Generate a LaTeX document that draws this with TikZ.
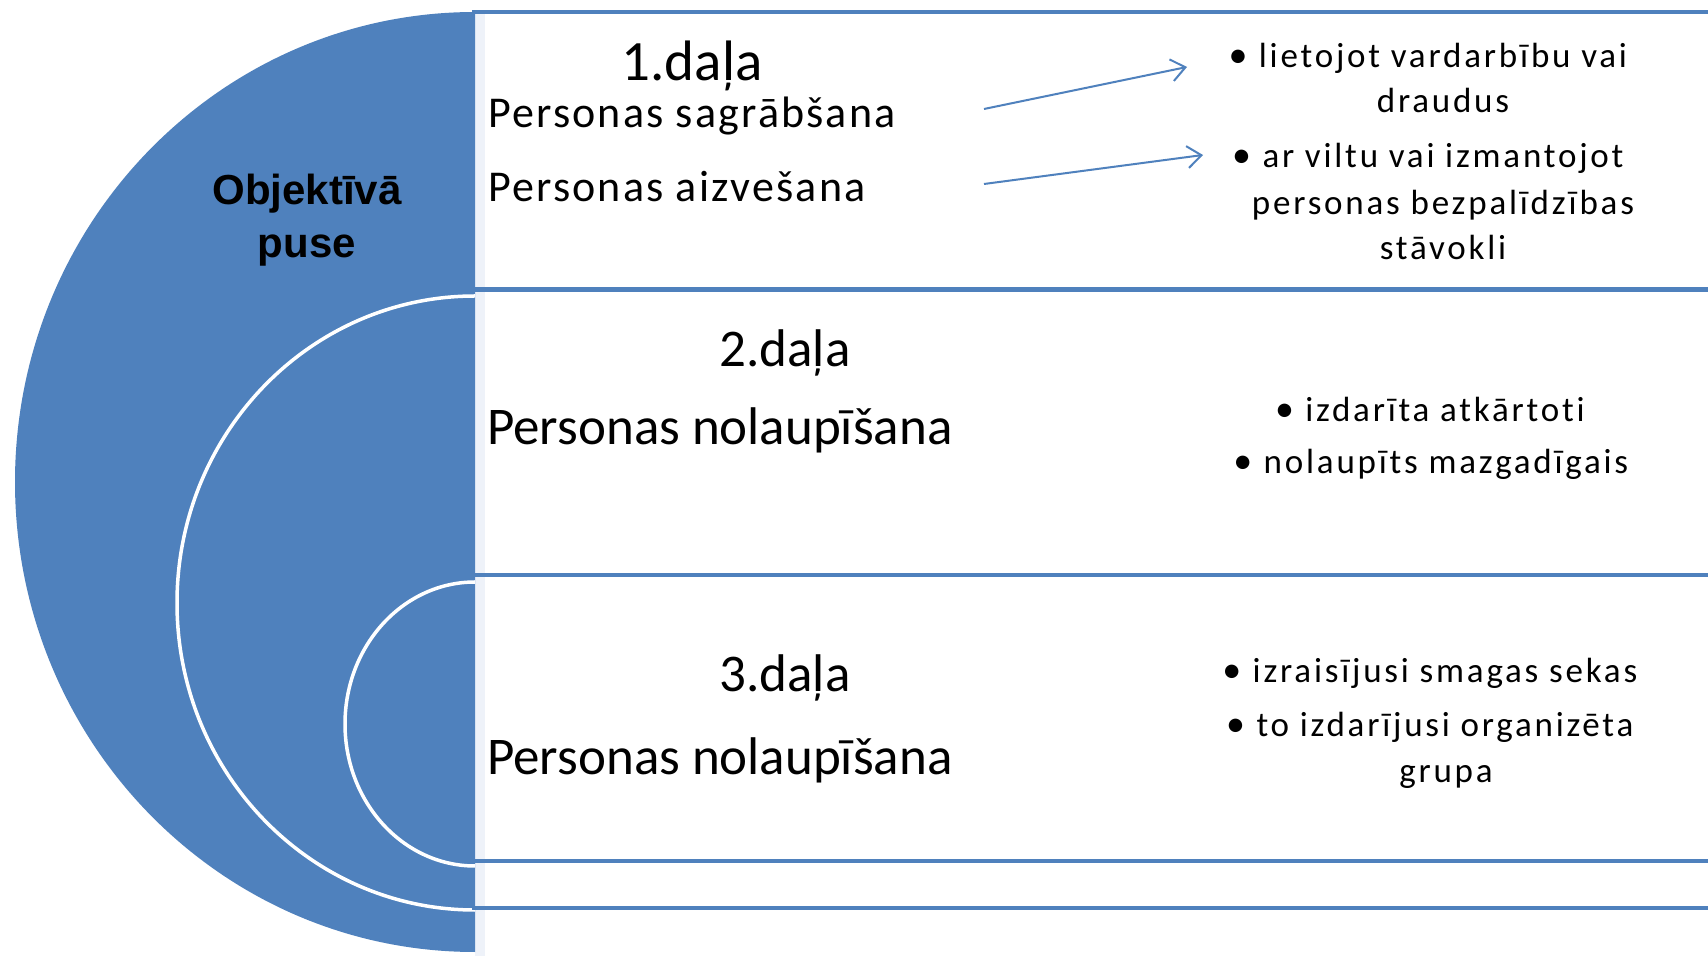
\documentclass[tikz,border=0pt]{standalone}
\usepackage{fontspec}
\usetikzlibrary{arrows.meta,calc}
\newfontfamily\calfont{Carlito}[Ligatures=NoCommon]
\newfontfamily\calhead{Carlito}[Ligatures=NoCommon,LetterSpace=5]
\newfontfamily\calbul{Carlito}[Ligatures=NoCommon,LetterSpace=8]
\newfontfamily\arialfont{Liberation Sans}
\definecolor{ppblue}{RGB}{79,129,189}
\definecolor{stripblue}{RGB}{238,242,249}
\begin{document}
\begin{tikzpicture}[x=1pt,y=1pt,
  bandline/.style={draw=ppblue, line width=4.5pt},
  ringline/.style={draw=white, line width=3.5pt},
  parthead/.style={inner sep=0pt, anchor=base, font=\calfont\fontsize{57}{62}\selectfont},
  partmid/.style={inner sep=0pt, anchor=base, font=\calfont\fontsize{53}{60}\selectfont},
  partline/.style={inner sep=0pt, anchor=base west, font=\calhead\fontsize{44}{50}\selectfont},
  partbig/.style={inner sep=0pt, anchor=base west, font=\calfont\fontsize{53}{60}\selectfont},
  bultext/.style={inner sep=0pt, anchor=base, font=\calbul\fontsize{35}{40}\selectfont},
  bulmark/.style={inner sep=0pt, anchor=base east, font=\calfont\fontsize{38}{40}\selectfont},
  sidetext/.style={inner sep=0pt, anchor=base, font=\arialfont\bfseries\fontsize{42}{48}\selectfont},
  arrowline/.style={draw=ppblue, line width=2pt, -{Straight Barb[length=14pt,width=22pt,line width=2pt]}},
]
\fill[white] (0,0) rectangle (1708,956);
\useasboundingbox (0,0) rectangle (1708,956);
% light inner strip
\fill[stripblue] (475,0) rectangle (485,944);
% big half ellipse
\fill[ppblue] (475,944) arc[start angle=90,end angle=270,x radius=460,y radius=470] -- cycle;
% white rings
\draw[ringline] (475,660) arc[start angle=90,end angle=270,x radius=298,y radius=307];
\draw[ringline] (475,374) arc[start angle=90,end angle=270,x radius=130,y radius=142];
% band lines
\foreach \yy in {944,666.5,381,95,48} \draw[bandline] (472,\yy) -- (1708,\yy);

% left label
\node[sidetext] (obj1) at (307,751) {Objektīvā};
\node[sidetext] (obj2) at (307,698) {puse};

% part 1
\node[parthead] (h1) at (692,875) {1.daļa};
\node[partline] (p1a) at (488,828) {Personas sagrābšana};
\node[partline] (p1b) at (488,754) {Personas aizvešana};
\node[bultext] (b1a) at (1443,888) {lietojot vardarbību vai};
\node[bultext] (b1b) at (1443,843) {draudus};
\node[bultext] (b2a) at (1443,788) {ar viltu vai izmantojot};
\node[bultext] (b2b) at (1443,741) {personas bezpalīdzības};
\node[bultext] (b2c) at (1443,696) {stāvokli};
\node[bulmark] (m1) at ($(b1a.base west)+(-11,0)$) {•};
\node[bulmark] (m2) at ($(b2a.base west)+(-11,0)$) {•};
\coordinate (a1s) at (984,847);
\coordinate (a1e) at (1187,889);
\coordinate (a2s) at (984,772);
\coordinate (a2e) at (1203,801);
\draw[arrowline] (a1s) -- (a1e);
\draw[arrowline] (a2s) -- (a2e);

% part 2
\node[partmid] (h2) at (785,589) {2.daļa};
\node[partbig] (p2) at (487,511) {Personas nolaupīšana};
\node[bultext] (b3) at (1445,534) {izdarīta atkārtoti};
\node[bultext] (b4) at (1446,482) {nolaupīts mazgadīgais};
\node[bulmark] (m3) at ($(b3.base west)+(-11,0)$) {•};
\node[bulmark] (m4) at ($(b4.base west)+(-11,0)$) {•};

% part 3
\node[partmid] (h3) at (785,264) {3.daļa};
\node[partbig] (p3) at (487,181) {Personas nolaupīšana};
\node[bultext] (b5) at (1445,273) {izraisījusi smagas sekas};
\node[bultext] (b6a) at (1445,219) {to izdarījusi organizēta};
\node[bultext] (b6b) at (1446,173) {grupa};
\node[bulmark] (m5) at ($(b5.base west)+(-11,0)$) {•};
\node[bulmark] (m6) at ($(b6a.base west)+(-11,0)$) {•};
\end{tikzpicture}
\end{document}
